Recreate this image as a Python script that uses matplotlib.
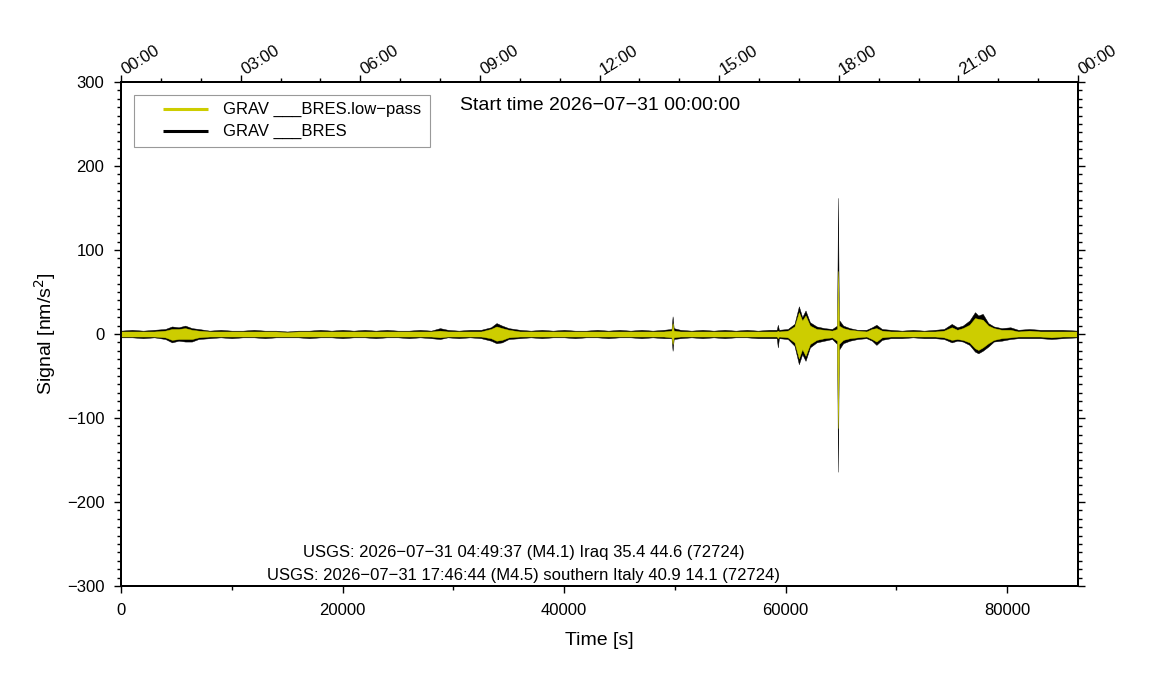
import numpy as np
import matplotlib
matplotlib.use("Agg")
import matplotlib.pyplot as plt
import matplotlib.ticker as ticker
import matplotlib.transforms as mtrans
from matplotlib.patches import Rectangle

plt.rcParams["font.family"] = ["Liberation Sans", "DejaVu Sans"]

# ── Envelope of the traces (time [s], nm/s^2) ─────────────────────────────────
T_S = [0, 1000, 2000, 3000, 4000, 4600, 5200, 5800, 6400, 7000, 8000, 9000,
       10000, 11000, 12000, 13000, 14000, 15000, 16000, 17000, 18000, 19000,
       20000, 21000, 22000, 23000, 24000, 25000, 26000, 27000, 28000, 28800,
       29500, 30500, 31500, 32500, 33400, 33900, 34400, 35000, 36000, 37000,
       38000, 39000, 40000, 41000, 42000, 43000, 44000, 45000, 46000, 47000,
       48000, 49000, 49700, 49800, 49900, 50500, 51500, 52500, 53500, 54500,
       55500, 56500, 57500, 58500, 59200, 59300, 59400, 60200, 60800, 61200,
       61500, 61800, 62200, 62800, 63500, 64200, 64650, 64730, 64810, 65200,
       65800, 66500, 67300, 67800, 68200, 68700, 69500, 70500, 71500, 72500,
       73500, 74300, 75000, 75500, 76000, 76600, 77100, 77400, 77800, 78300,
       78800, 79500, 80300, 81000, 82000, 83000, 84000, 85000, 86400]

BLK_HI = [4, 5, 4, 5, 6, 9, 8, 10, 7, 6, 4, 5,
          4, 4, 5, 4, 4, 3, 4, 4, 5, 4,
          5, 4, 5, 4, 5, 4, 4, 5, 4, 7,
          5, 4, 5, 5, 8, 13, 10, 7, 5, 4,
          5, 4, 5, 4, 4, 5, 4, 5, 4, 5,
          4, 5, 6, 21, 7, 5, 4, 5, 4, 5,
          4, 5, 4, 5, 5, 11, 5, 6, 12, 33,
          20, 28, 14, 9, 7, 6, 10, 162, 17, 10,
          7, 5, 5, 8, 11, 6, 5, 4, 5, 4,
          5, 6, 12, 8, 10, 16, 26, 22, 24, 13,
          9, 7, 8, 5, 6, 5, 5, 5, 4]

BLK_LO = [-4, -4, -5, -4, -6, -10, -8, -9, -9, -6, -5, -4,
          -5, -4, -4, -5, -4, -4, -4, -5, -4, -4,
          -5, -4, -4, -5, -4, -4, -5, -4, -5, -6,
          -4, -5, -4, -5, -8, -11, -10, -6, -5, -4,
          -5, -4, -4, -5, -4, -4, -5, -4, -4, -5,
          -4, -5, -5, -20, -6, -5, -4, -5, -4, -5,
          -4, -4, -5, -5, -5, -16, -5, -6, -14, -36,
          -24, -32, -16, -10, -8, -6, -12, -164, -19, -11,
          -8, -6, -5, -8, -13, -7, -5, -5, -4, -5,
          -5, -6, -10, -8, -9, -13, -21, -23, -20, -15,
          -9, -8, -6, -5, -5, -5, -6, -5, -4]

YEL_HI = [3, 3, 3, 3, 4, 6, 6, 7, 5, 4, 3, 3,
          3, 3, 3, 3, 3, 2, 3, 3, 3, 3,
          3, 3, 3, 3, 3, 3, 3, 3, 3, 4,
          3, 3, 3, 3, 6, 9, 7, 5, 3, 3,
          3, 3, 3, 3, 3, 3, 3, 3, 3, 3,
          3, 3, 4, 13, 4, 3, 3, 3, 3, 3,
          3, 3, 3, 3, 3, 4, 3, 4, 9, 26,
          16, 22, 10, 6, 5, 4, 6, 75, 10, 7,
          5, 4, 3, 6, 7, 4, 3, 3, 3, 3,
          3, 4, 8, 5, 7, 11, 19, 18, 17, 10,
          7, 5, 5, 3, 4, 3, 3, 3, 3]

YEL_LO = [-3, -3, -3, -3, -4, -7, -6, -6, -6, -4, -3, -3,
          -3, -3, -3, -3, -3, -3, -3, -3, -3, -3,
          -3, -3, -3, -3, -3, -3, -3, -3, -3, -4,
          -3, -3, -3, -3, -5, -8, -7, -4, -3, -3,
          -3, -3, -3, -3, -3, -3, -3, -3, -3, -3,
          -3, -3, -4, -12, -4, -3, -3, -3, -3, -3,
          -3, -3, -3, -3, -3, -5, -3, -4, -10, -29,
          -18, -26, -12, -7, -5, -4, -8, -112, -12, -7,
          -5, -4, -3, -6, -9, -4, -3, -3, -3, -3,
          -3, -4, -7, -6, -7, -10, -17, -19, -16, -11,
          -7, -5, -4, -3, -3, -3, -4, -3, -3]

HOUR_LABELS = ["00:00", "03:00", "06:00", "09:00", "12:00",
               "15:00", "18:00", "21:00", "00:00"]

LEGEND_LABELS = ["GRAV ___BRES.low\u2212pass", "GRAV ___BRES"]
START_TEXT = "Start time 2026\u221207\u221231 00:00:00"
EVENTS = [
    "USGS: 2026\u221207\u221231 04:49:37 (M4.1) Iraq 35.4 44.6 (72724)",
    "USGS: 2026\u221207\u221231 17:46:44 (M4.5) southern Italy 40.9 14.1 (72724)",
]

YELLOW = "#cdcd00"

t = np.array(T_S)

fig = plt.figure(figsize=(11.51, 7.0), dpi=100)
ax = fig.add_axes([121 / 1151, 114 / 700, 957 / 1151, 504 / 700])

# black raw trace then yellow low-pass on top
ax.fill_between(t, BLK_LO, BLK_HI, color="black", lw=0.3, zorder=2)
ax.fill_between(t, YEL_LO, YEL_HI, color=YELLOW, lw=0.3, zorder=3)

ax.set_xlim(0, 86400)
ax.set_ylim(-300, 300)
ax.xaxis.set_major_locator(ticker.MultipleLocator(20000))
ax.xaxis.set_minor_locator(ticker.MultipleLocator(10000))
ax.yaxis.set_major_locator(ticker.MultipleLocator(100))
ax.yaxis.set_minor_locator(ticker.MultipleLocator(10))
ax.tick_params(which="both", direction="out", labelsize=12, width=1.0,
               right=True, top=False, pad=7)
ax.tick_params(which="major", length=5)
ax.tick_params(which="minor", length=3)
for sp in ax.spines.values():
    sp.set_linewidth(1.4)

ax.set_xlabel("Time [s]", fontsize=14, labelpad=10)
ax.set_ylabel("Signal [nm/s$^2$]", fontsize=14, labelpad=6)

# ── top axis: hours of day ────────────────────────────────────────────────────
ax2 = ax.twiny()
ax2.set_xlim(0, 86400)
ax2.set_xticks(np.arange(0, 86401, 10800))
ax2.set_xticklabels(HOUR_LABELS)
ax2.xaxis.set_minor_locator(ticker.MultipleLocator(3600))
ax2.tick_params(which="both", direction="out", labelsize=12, width=1.0, pad=0)
ax2.tick_params(which="major", length=5)
ax2.tick_params(which="minor", length=3)
shift = mtrans.ScaledTranslation(6 / 100, -2 / 100, fig.dpi_scale_trans)
for lab in ax2.get_xticklabels():
    lab.set_rotation(32)
    lab.set_ha("left")
    lab.set_va("bottom")
    lab.set_rotation_mode("anchor")
    lab.set_transform(lab.get_transform() + shift)
for sp in ax2.spines.values():
    sp.set_linewidth(1.4)

# ── legend box (GMT style) ────────────────────────────────────────────────────
ax.add_patch(Rectangle((0.0136, 0.871), 0.3093, 0.1032, transform=ax.transAxes,
                       facecolor="white", edgecolor="#999999", lw=0.8, zorder=5))
for ypos, col, lab in zip([0.9464, 0.9028], [YELLOW, "black"], LEGEND_LABELS):
    ax.plot([0.0439, 0.0909], [ypos, ypos], color=col, lw=2.2,
            transform=ax.transAxes, zorder=6, solid_capstyle="butt")
    ax.text(0.1066, ypos, lab, transform=ax.transAxes, fontsize=12,
            va="center", ha="left", zorder=6)

ax.text(0.5005, 0.954, START_TEXT, transform=ax.transAxes, fontsize=14,
        ha="center", va="center")
for ypos, txt in zip([0.0655, 0.0218], EVENTS):
    ax.text(0.4211, ypos, txt, transform=ax.transAxes, fontsize=12,
            ha="center", va="center")

fig.savefig("out.png", dpi=100)
